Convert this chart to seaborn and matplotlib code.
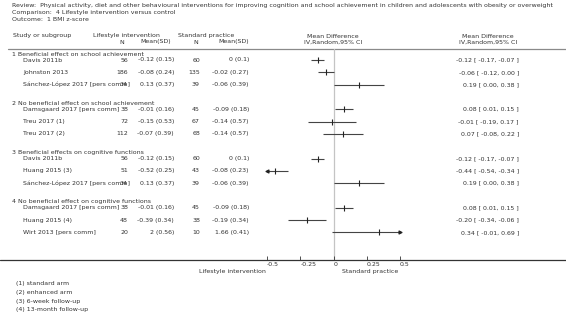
import numpy as np
import pandas as pd
import matplotlib.pyplot as plt
import seaborn as sns


# data
group_titles = [
    "1 Beneficial effect on school achievement",
    "2 No beneficial effect on school achievement",
    "3 Beneficial effects on cognitive functions",
    "4 No beneficial effect on cognitive functions",
]
group_index = [0, 0, 0, 1, 1, 1, 2, 2, 2, 3, 3, 3]
study_names = [
    "Davis 2011b", "Johnston 2013", "Sánchez-López 2017 [pers comm]",
    "Damsgaard 2017 [pers comm]", "Treu 2017 (1)", "Treu 2017 (2)",
    "Davis 2011b", "Huang 2015 (3)", "Sánchez-López 2017 [pers comm]",
    "Damsgaard 2017 [pers comm]", "Huang 2015 (4)", "Wirt 2013 [pers comm]",
]
n_life = [56, 186, 34, 38, 72, 112, 56, 51, 34, 38, 48, 20]
mean_life = [-0.12, -0.08, 0.13, -0.01, -0.15, -0.07, -0.12, -0.52, 0.13, -0.01, -0.39, 2]
sd_life = [0.15, 0.24, 0.37, 0.16, 0.53, 0.39, 0.15, 0.25, 0.37, 0.16, 0.34, 0.56]
n_std = [60, 135, 39, 45, 67, 68, 60, 43, 39, 45, 38, 10]
mean_std = [0, -0.02, -0.06, -0.09, -0.14, -0.14, 0, -0.08, -0.06, -0.09, -0.19, 1.66]
sd_std = [0.1, 0.27, 0.39, 0.18, 0.57, 0.57, 0.1, 0.23, 0.39, 0.18, 0.34, 0.41]
md = [-0.12, -0.06, 0.19, 0.08, -0.01, 0.07, -0.12, -0.44, 0.19, 0.08, -0.20, 0.34]
ci_lo = [-0.17, -0.12, 0.00, 0.01, -0.19, -0.08, -0.17, -0.54, 0.00, 0.01, -0.34, -0.01]
ci_hi = [-0.07, 0.00, 0.38, 0.15, 0.17, 0.22, -0.07, -0.34, 0.38, 0.15, -0.06, 0.69]

x_ticks = [-0.5, -0.25, 0, 0.25, 0.5]
x_tick_labels = ["-0.5", "-0.25", "0", "0.25", "0.5"]

footnotes = ["(1) standard arm", "(2) enhanced arm", "(3) 6-week follow-up", "(4) 13-month follow-up"]

review_lines = [
    "Review:  Physical activity, diet and other behavioural interventions for improving cognition "
    "and school achievement in children and adolescents with obesity or overweight",
    "Comparison:  4 Lifestyle intervention versus control",
    "Outcome:  1 BMI z-score",
]


df = pd.DataFrame({
    "group": group_index, "study": study_names,
    "n1": n_life, "m1": mean_life, "s1": sd_life,
    "n2": n_std, "m2": mean_std, "s2": sd_std,
    "md": md, "lo": ci_lo, "hi": ci_hi,
})

# layout (pixels of the 566x328 canvas)
W, H = 566, 328
FIRST_ROW = 60
PITCH = 12.32
df["y"] = FIRST_ROW + (4 * df["group"] + df.groupby("group").cumcount()) * PITCH

TXT = "#333333"
FS = 4.5

sns.set_theme(style="white")
plt.rcParams["font.family"] = ["DejaVu Sans"]

fig = plt.figure(figsize=(W / 100, H / 100), dpi=100)
fig.patch.set_facecolor("white")

bg = fig.add_axes([0, 0, 1, 1])
bg.set_xlim(0, W)
bg.set_ylim(H, 0)
bg.axis("off")


def put(x, y, s, ha="left", **kw):
    bg.text(x, y, s, ha=ha, va="center", fontsize=FS, color=TXT, **kw)


# title block
for i, line in enumerate(review_lines):
    put(12, 6 + i * 6.7, line)

# column headers
put(13, 36, "Study or subgroup")
put(93, 36, "Lifestyle intervention")
put(178, 36, "Standard practice")
put(124, 42, "N", ha="right")
put(171, 42, "Mean(SD)", ha="right")
put(198, 42, "N", ha="right")
put(249, 42, "Mean(SD)", ha="right")
put(333, 36, "Mean Difference", ha="center")
put(333, 42, "IV,Random,95% CI", ha="center")
put(488, 36, "Mean Difference", ha="center")
put(488, 42, "IV,Random,95% CI", ha="center")

bg.plot([8, W], [49, 49], color="#8a8a8a", lw=0.9)
bg.plot([0, W], [260, 260], color="#333333", lw=0.9)

# table rows
for g, title in enumerate(group_titles):
    put(12, df.loc[df["group"] == g, "y"].min() - 6, title)

for _, r in df.iterrows():
    put(23, r["y"], r["study"])
    put(128, r["y"], f"{r['n1']:g}", ha="right")
    put(174, r["y"], f"{r['m1']:g} ({r['s1']:g})", ha="right")
    put(200, r["y"], f"{r['n2']:g}", ha="right")
    put(249, r["y"], f"{r['m2']:g} ({r['s2']:g})", ha="right")
    put(519, r["y"], f"{r['md']:.2f} [ {r['lo']:.2f}, {r['hi']:.2f} ]", ha="right")

put(266, 271, "Lifestyle intervention", ha="right")
put(342, 271, "Standard practice")

for i, note in enumerate(footnotes):
    put(16, 284 + i * 8.6, note)

# forest panel
ax = fig.add_axes([267 / W, 1 - 260 / H, (400 - 267) / W, (260 - 49) / H])
ax.patch.set_alpha(0)
ax.set_xlim(-0.5, 0.5)
ax.set_ylim(260, 49)
ax.axvline(0, color="#c4c4c4", lw=0.9, zorder=0)

lo_c = df["lo"].clip(-0.5, 0.5)
hi_c = df["hi"].clip(-0.5, 0.5)
ax.hlines(df["y"], lo_c, hi_c, color="#444444", lw=0.8)
sns.scatterplot(x=df["md"], y=df["y"], marker="|", s=14, color="#222222",
                linewidth=0.8, ax=ax, legend=False, zorder=3)

left_cut = df[df["lo"] < -0.5]
right_cut = df[df["hi"] > 0.5]
ax.scatter(np.full(len(left_cut), -0.5), left_cut["y"], marker="<", s=4,
           color="#222222", clip_on=False, zorder=3)
ax.scatter(np.full(len(right_cut), 0.5), right_cut["y"], marker=">", s=4,
           color="#222222", clip_on=False, zorder=3)

sns.despine(ax=ax, left=True, bottom=True)
ax.set_yticks([])
ax.set_xticks(x_ticks)
ax.set_xticklabels(x_tick_labels, fontsize=FS, color=TXT, ha="left")
ax.tick_params(axis="x", direction="in", length=3, width=0.6, pad=1.5,
               color="#333333", bottom=True)
ax.set_xlabel("")
ax.set_ylabel("")

fig.savefig("out.png", dpi=100, facecolor="white")
